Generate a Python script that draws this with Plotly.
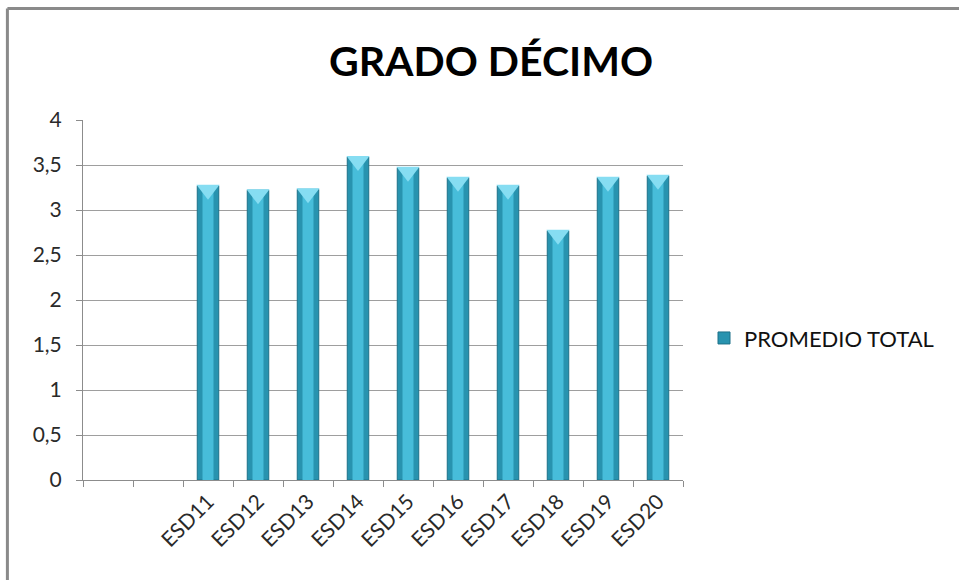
import plotly.graph_objects as go

categories = ["", "", "ESD11", "ESD12", "ESD13", "ESD14", "ESD15", "ESD16", "ESD17", "ESD18", "ESD19", "ESD20"]
promedio = [None, None, 3.27, 3.22, 3.23, 3.59, 3.47, 3.36, 3.27, 2.77, 3.36, 3.38]
y_ticks = [0, 0.5, 1, 1.5, 2, 2.5, 3, 3.5, 4]
y_labels = ["0", "0,5", "1", "1,5", "2", "2,5", "3", "3,5", "4"]

pos = list(range(len(categories)))
FONT = "Lato, 'Open Sans', sans-serif"

fig = go.Figure()
fig.add_trace(go.Bar(x=pos, y=promedio, width=0.43, name="PROMEDIO TOTAL",
                     marker=dict(color="#2893AF", line=dict(color="#1D7189", width=1))))
fig.add_trace(go.Bar(x=pos, y=promedio, width=0.22, showlegend=False, hoverinfo="skip",
                     marker=dict(color="#47BDDA", line=dict(width=0))))
cap_y = [None if v is None else v - 0.045 for v in promedio]
fig.add_trace(go.Scatter(x=pos, y=cap_y, mode="markers", showlegend=False, hoverinfo="skip",
                         marker=dict(symbol="triangle-down", size=20, color="#86DDF2",
                                     line=dict(width=0))))

fig.update_layout(
    width=959, height=580,
    margin=dict(l=83, r=276, t=120, b=100),
    paper_bgcolor="white", plot_bgcolor="white",
    barmode="overlay",
    title=dict(text="<b>GRADO DÉCIMO</b>", x=0.512, xanchor="center", y=0.893, yanchor="middle",
               font=dict(family=FONT, size=41, color="#000000")),
    font=dict(family=FONT, color="#222222"),
    legend=dict(x=1.035, y=0.394, xanchor="left", yanchor="middle",
                font=dict(family=FONT, size=22, color="#111111"), itemwidth=30),
    showlegend=True,
    xaxis=dict(range=[-0.5, len(categories) - 0.5], tickmode="array", tickvals=pos,
               ticktext=categories, tickangle=-45, ticks="", showgrid=False,
               showline=True, linecolor="#8C8C8C", linewidth=1, zeroline=False,
               tickfont=dict(family=FONT, size=21, color="#2A2A2A"),
               minor=dict(tick0=-0.5, dtick=1, ticks="outside", ticklen=6,
                          tickcolor="#8C8C8C", showgrid=False)),
    yaxis=dict(range=[0, 4], tickmode="array", tickvals=y_ticks, ticktext=y_labels,
               ticks="outside", ticklen=6, tickcolor="#8C8C8C", showgrid=True,
               gridcolor="#9E9E9E", gridwidth=1, showline=True, linecolor="#8C8C8C",
               linewidth=1, zeroline=False, ticklabelstandoff=10,
               tickfont=dict(family=FONT, size=21, color="#2A2A2A")),
)

# outer chart border (left and top edges visible in the reference)
fig.add_shape(type="line", xref="paper", yref="paper", x0=-0.126, x1=-0.126, y0=-0.3, y1=1.31,
              line=dict(color="#8A8A8A", width=3))
fig.add_shape(type="line", xref="paper", yref="paper", x0=-0.126, x1=1.47, y0=1.31, y1=1.31,
              line=dict(color="#8A8A8A", width=3))

fig.write_html("out.html", config={"displayModeBar": False},
               post_script="document.body.style.margin='0';")
